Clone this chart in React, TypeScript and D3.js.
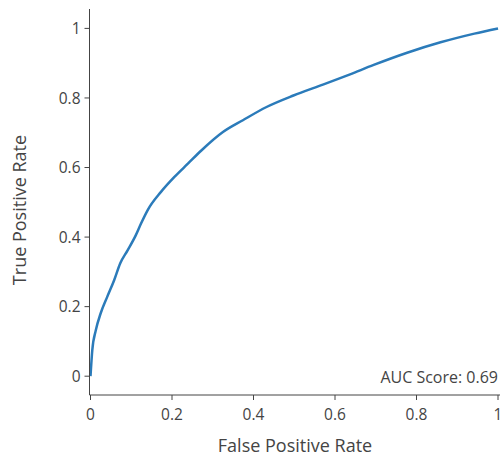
import React from "react";
import * as d3 from "d3";

const fpr = [0, 0.0044, 0.013, 0.025, 0.041, 0.058, 0.073, 0.091, 0.111, 0.124, 0.14, 0.173, 0.206, 0.239, 0.272, 0.325, 0.374, 0.432, 0.498, 0.572, 0.637, 0.695, 0.777, 0.859, 0.942, 1];
const tpr = [0, 0.075, 0.132, 0.181, 0.228, 0.276, 0.325, 0.362, 0.405, 0.439, 0.477, 0.530, 0.573, 0.611, 0.649, 0.702, 0.736, 0.774, 0.807, 0.839, 0.868, 0.895, 0.930, 0.960, 0.985, 1];
const xTicks = [0, 0.2, 0.4, 0.6, 0.8, 1];
const yTicks = [0, 0.2, 0.4, 0.6, 0.8, 1];
const aucLabel = "AUC Score: 0.69";

export default function App() {
  const W = 503, H = 457;
  const x = d3.scaleLinear().domain([0, 1]).range([90.5, 498]);
  const y = d3.scaleLinear().domain([0, 1]).range([376.2, 28.4]);
  const axisY = 395;
  const axisX = 89.5;
  const pts = fpr.map((f, i) => [f, tpr[i]] as [number, number]);
  const line = d3.line<[number, number]>().x(d => x(d[0])).y(d => y(d[1])).curve(d3.curveMonotoneX);
  const font = "'Open Sans', sans-serif";
  const col = "#444";
  return (
    <svg width={W} height={H} style={{ position: "absolute", left: 0, top: 0 }}>
      <rect width={W} height={H} fill="#fff" />
      <path d={line(pts) || ""} fill="none" stroke="#2b7bba" strokeWidth={2.5} />
      <line x1={axisX} x2={axisX} y1={9} y2={axisY} stroke={col} strokeWidth={1} />
      <line x1={axisX} x2={500} y1={axisY} y2={axisY} stroke={col} strokeWidth={1} />
      {yTicks.map(t => (
        <g key={"y" + t}>
          <line x1={axisX - 5} x2={axisX} y1={y(t)} y2={y(t)} stroke={col} />
          <text x={axisX - 9} y={y(t)} dy="0.36em" textAnchor="end" fontFamily={font} fontSize={15.5} fill={col}>{d3.format("~g")(t)}</text>
        </g>
      ))}
      {xTicks.map(t => (
        <g key={"x" + t}>
          <line x1={x(t)} x2={x(t)} y1={axisY} y2={axisY + 5} stroke={col} />
          <text x={x(t)} y={axisY + 25} textAnchor="middle" fontFamily={font} fontSize={15.5} fill={col}>{d3.format("~g")(t)}</text>
        </g>
      ))}
      <text x={295} y={452} textAnchor="middle" fontFamily={font} fontSize={18} fill={col}>False Positive Rate</text>
      <text transform={`translate(26,210) rotate(-90)`} textAnchor="middle" fontFamily={font} fontSize={18} fill={col}>True Positive Rate</text>
      <text x={498} y={383} textAnchor="end" fontFamily={font} fontSize={16} fill={col}>{aucLabel}</text>
    </svg>
  );
}
